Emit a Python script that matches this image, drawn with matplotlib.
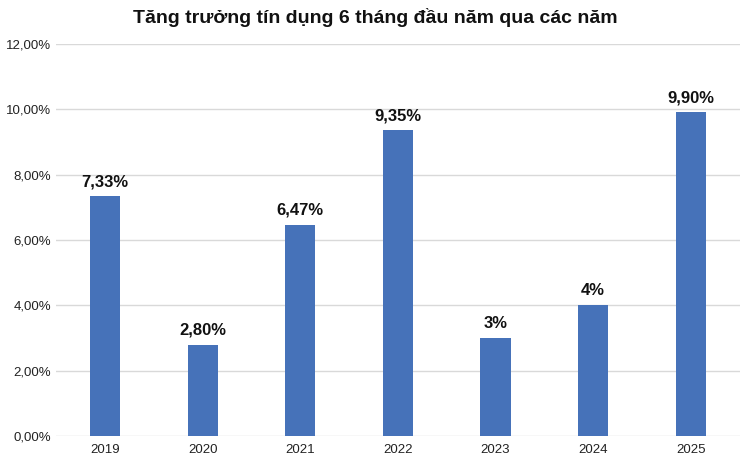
import matplotlib.pyplot as plt

plt.rcParams['font.family'] = ['Liberation Sans', 'DejaVu Sans']

years = ['2019', '2020', '2021', '2022', '2023', '2024', '2025']
values = [7.33, 2.80, 6.47, 9.35, 3.0, 4.0, 9.90]
labels = ['7,33%', '2,80%', '6,47%', '9,35%', '3%', '4%', '9,90%']
yticks = [0, 2, 4, 6, 8, 10, 12]
ytick_labels = ['0,00%', '2,00%', '4,00%', '6,00%', '8,00%', '10,00%', '12,00%']

fig = plt.figure(figsize=(7.5, 4.61), dpi=100)
ax = fig.add_axes([0.075, 0.054, 0.911, 0.851])

x = range(len(years))
ax.bar(x, values, width=0.31, color='#4672b9', zorder=3)
for i, v in enumerate(values):
    ax.text(i, v + 0.22, labels[i], ha='center', va='bottom',
            fontsize=12, fontweight='bold', color='#111111')

ax.set_xlim(-0.5, len(years) - 0.5)
ax.set_ylim(0, 12)
ax.set_yticks(yticks)
ax.set_yticklabels(ytick_labels)
ax.set_xticks(list(x))
ax.set_xticklabels(years)
ax.tick_params(axis='both', length=0, labelsize=9.5, colors='#222222')
ax.tick_params(axis='x', pad=6)
ax.grid(axis='y', color='#d9d9d9', linewidth=1, zorder=0)
for s in ax.spines.values():
    s.set_visible(False)

fig.text(0.5, 0.962, 'Tăng trưởng tín dụng 6 tháng đầu năm qua các năm',
         ha='center', va='center', fontsize=14, fontweight='bold', color='#111111')

fig.savefig('out.png', dpi=100)
